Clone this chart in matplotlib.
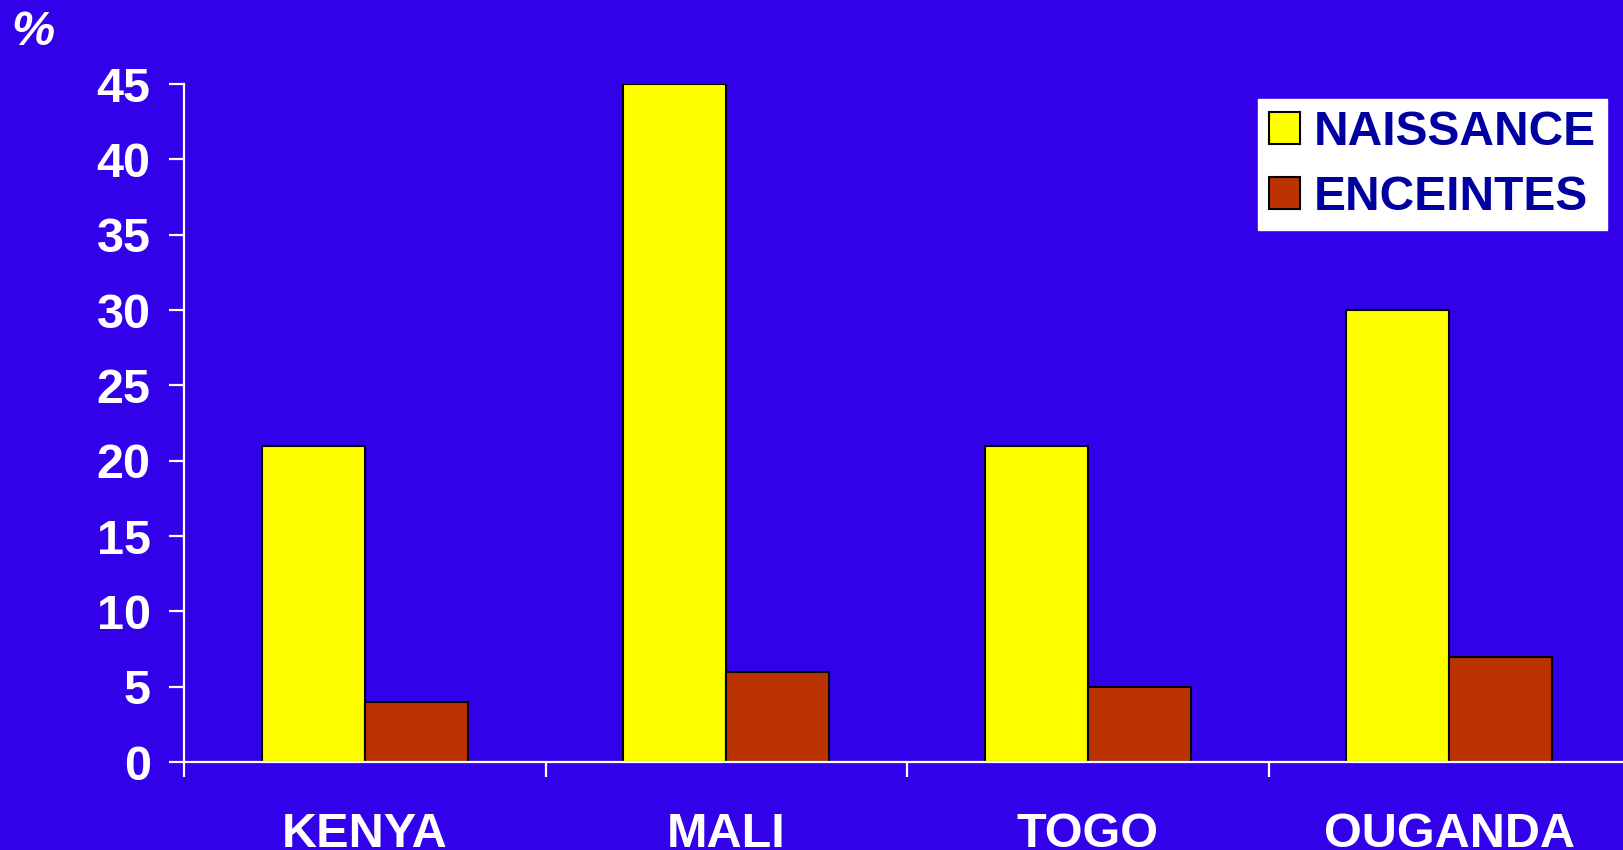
import numpy as np
import matplotlib.pyplot as plt

plt.rcParams['font.family'] = ['Liberation Sans', 'DejaVu Sans']

# data
countries = ['KENYA', 'MALI', 'TOGO', 'OUGANDA']
naissance = [21, 45, 21, 30]
enceintes = [4, 6, 5, 7]
yticks = [0, 5, 10, 15, 20, 25, 30, 35, 40, 45]

bg = '#3300EA'
yellow = '#FFFF00'
red = '#BB3300'

fig = plt.figure(figsize=(16.24, 8.5), dpi=100, facecolor=bg)
ax = fig.add_axes([0.1133, 0.1035, 0.8904, 0.7976])
ax.set_facecolor(bg)

x = np.arange(len(countries))
w = 0.285
ax.bar(x - w/2, naissance, w, color=yellow, edgecolor='black', linewidth=1.5, label='NAISSANCE')
ax.bar(x + w/2, enceintes, w, color=red, edgecolor='black', linewidth=1.5, label='ENCEINTES')

ax.set_xlim(-0.5, 3.5)
ax.set_ylim(0, 45)

for s in ['top', 'right']:
    ax.spines[s].set_visible(False)
for s in ['left', 'bottom']:
    ax.spines[s].set_color('white')
    ax.spines[s].set_linewidth(1.6)

ax.set_yticks(yticks)
ax.set_yticklabels([str(v) for v in yticks])
ax.tick_params(axis='y', colors='white', length=11, width=1.6, pad=13,
               labelsize=35)
for t in ax.get_yticklabels():
    t.set_fontweight('bold')

ax.set_xticks(x)
ax.set_xticklabels(countries)
ax.set_xticks(np.arange(-0.5, 4.0, 1.0), minor=True)
ax.tick_params(axis='x', which='major', length=0, pad=36, colors='white', labelsize=35)
ax.tick_params(axis='x', which='minor', length=11, width=1.6, color='white', direction='out')
for t in ax.get_xticklabels():
    t.set_fontweight('bold')

fig.text(0.007, 0.988, '%', color='white', fontsize=35, fontweight='bold',
         fontstyle='italic', ha='left', va='top')

leg = ax.legend(loc='upper left', bbox_to_anchor=(1258/1624, 1 - 99/850),
                bbox_transform=fig.transFigure, fontsize=34.5, frameon=True,
                fancybox=False, framealpha=1, edgecolor='white',
                handlelength=0.65, handleheight=0.65, handletextpad=0.3,
                labelspacing=0.42, borderpad=0.22, borderaxespad=0)
for t in leg.get_texts():
    t.set_color('#0000A0')
    t.set_fontweight('bold')

fig.savefig('out.png', dpi=100, facecolor=bg)
